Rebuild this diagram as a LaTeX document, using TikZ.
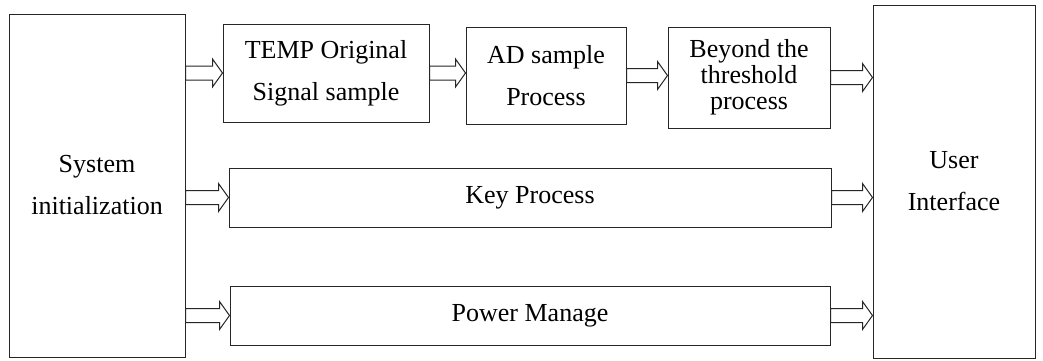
\documentclass[tikz,border=0pt]{standalone}
\usepackage{fontspec}
\setmainfont{Liberation Serif}
\usetikzlibrary{calc}

\newcommand\blockarrow[2]{%
  \draw[blockarr] let \p1=#1, \p2=#2 in
    (\x1,\y2+3.5pt) -- (\x2-5pt,\y2+3.5pt) -- (\x2-5pt,\y2+7pt) -- (\x2,\y2)
    -- (\x2-5pt,\y2-7pt) -- (\x2-5pt,\y2-3.5pt) -- (\x1,\y2-3.5pt) -- cycle;}

\begin{document}
\begin{tikzpicture}[x=0.5pt,y=-0.5pt,
  box/.style={draw=black!85,line width=0.5pt,align=center,inner sep=0pt,
    font=\fontsize{13}{21}\selectfont},
  blockarr/.style={draw=black!85,line width=0.5pt,fill=white}]
 \useasboundingbox (0,0) rectangle (1043,360);
 \node[box,minimum width=88pt,minimum height=171.5pt] (sys) at (97,185.5) {System\\initialization};
 \node[box,minimum width=81pt,minimum height=176.5pt] (ui) at (954,181.5) {User\\Interface};
 \node[box,minimum width=103pt,minimum height=49pt] (temp) at (326,73) {TEMP Original\\Signal sample};
 \node[box,minimum width=80pt,minimum height=48.5pt] (ad) at (546,75.5) {AD sample\\Process};
 \node[box,minimum width=81pt,minimum height=50.5pt,
   font=\fontsize{13}{13}\selectfont] (beyond) at (749,77.5) {Beyond the\\threshold\\process};
 \node[box,minimum width=301pt,minimum height=29.5pt] (key) at (530,197.5) {Key Process};
 \node[box,minimum width=300pt,minimum height=29.5pt] (power) at (530,315.5) {Power Manage};
 % block arrows
 \blockarrow{(sys.east |- temp.west)}{(temp.west)}
 \blockarrow{(temp.east)}{(ad.west |- temp.east)}
 \blockarrow{(ad.east)}{(beyond.west |- ad.east)}
 \blockarrow{(beyond.east)}{(ui.west |- beyond.east)}
 \blockarrow{(sys.east |- key.west)}{(key.west)}
 \blockarrow{(key.east)}{(ui.west |- key.east)}
 \blockarrow{(sys.east |- power.west)}{(power.west)}
 \blockarrow{(power.east)}{(ui.west |- power.east)}
\end{tikzpicture}
\end{document}
